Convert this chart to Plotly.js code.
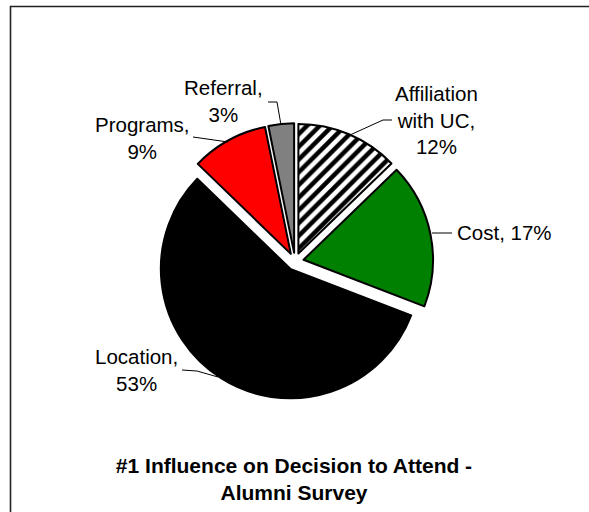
<!DOCTYPE html>
<html><head><meta charset="utf-8">
<script src="https://cdn.plot.ly/plotly-3.0.1.min.js"></script>
<style>html,body{margin:0;padding:0;background:#fff;overflow:hidden}</style>
</head><body>
<div id="chart" style="width:589px;height:512px"></div>
<script>
// ---- data ----
const categories = ['Affiliation with UC', 'Cost', 'Location', 'Programs', 'Referral'];
const values = [12, 17, 53, 9, 3];
const percentLabels = ['12%', '17%', '53%', '9%', '3%'];
const labelNames = ['Affiliation<br>with UC,', 'Cost,', 'Location,', 'Programs,', 'Referral,'];
const labelSeparators = ['<br>', ' ', '<br>', '<br>', '<br>'];
const chartTitle = '#1 Influence on Decision to Attend -<br>Alumni Survey';

// ---- styles / layout ----
const W = 589, H = 512;
const px = x => x / W;
const py = y => 1 - y / H;
const sliceColors = ['#ffffff', '#008000', '#000000', '#ff0000', '#808080'];
const slicePatterns = ['/', '', '', '', ''];
const FONT = 'Liberation Sans, Arial, Helvetica, sans-serif';

const pull = 0.067;
const cx = 295, cy = 261.5, r = 129.5;
const half = r * (1 + pull);

// label anchor positions (pixels) and anchors
const labelPos = [
  {x: 436, y: 120, xa: 'center'},
  {x: 455, y: 232, xa: 'left'},
  {x: 136, y: 369.5, xa: 'center'},
  {x: 142, y: 138, xa: 'center'},
  {x: 223, y: 101, xa: 'center'}
];
const leaderPaths = [
  [[350,135],[383,120],[392,120]],
  [[432,233],[452,233]],
  [[218,377],[197,371],[182,370]],
  [[228,142],[193,137]],
  [[281,125],[277,102],[268,102]]
];

const trace = {
  type: 'pie',
  labels: categories,
  values: values,
  sort: false,
  direction: 'clockwise',
  rotation: 0,
  pull: values.map(() => pull),
  textinfo: 'none',
  hoverinfo: 'none',
  domain: {
    x: [px(cx - half), px(cx + half)],
    y: [py(cy + half), py(cy - half)]
  },
  marker: {
    colors: sliceColors,
    line: {color: '#000000', width: 2},
    pattern: {shape: slicePatterns, fgcolor: '#000000', bgcolor: '#ffffff', size: 9, solidity: 0.5}
  }
};

const annotations = categories.map((c, i) => ({
  xref: 'paper', yref: 'paper',
  x: px(labelPos[i].x), y: py(labelPos[i].y),
  xanchor: labelPos[i].xa, yanchor: 'middle',
  text: labelNames[i] + labelSeparators[i] + percentLabels[i],
  showarrow: false,
  align: 'center',
  font: {family: FONT, size: 20.5, color: '#000000'}
}));

const shapes = leaderPaths.map(pts => ({
  type: 'path', xref: 'paper', yref: 'paper',
  path: pts.map((p, k) => (k ? 'L' : 'M') + px(p[0]) + ',' + py(p[1])).join(' '),
  line: {color: '#000000', width: 1}
}));
shapes.push({
  type: 'rect', xref: 'paper', yref: 'paper',
  x0: px(10.5), x1: px(W + 20), y0: py(H + 20), y1: py(6.5),
  line: {color: '#222222', width: 1.6}, fillcolor: 'rgba(0,0,0,0)'
});

const layout = {
  width: W, height: H,
  margin: {l: 0, r: 0, t: 0, b: 0},
  paper_bgcolor: '#ffffff',
  showlegend: false,
  font: {family: FONT, color: '#000000'},
  title: {
    text: chartTitle,
    x: px(294), xanchor: 'center',
    y: py(472.5), yanchor: 'middle',
    font: {family: FONT, size: 21, weight: 'bold', color: '#000000'}
  },
  annotations: annotations,
  shapes: shapes
};

Plotly.newPlot('chart', [trace], layout, {displayModeBar: false, staticPlot: true});
</script>
</body></html>
